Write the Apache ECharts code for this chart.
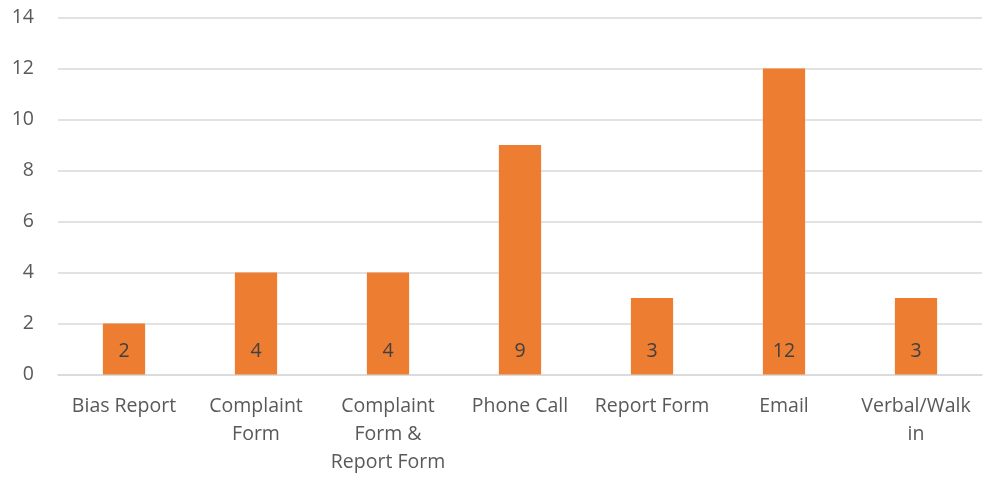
<!DOCTYPE html>
<html>
<head>
<meta charset="utf-8">
<script src="https://cdn.jsdelivr.net/npm/echarts@6/dist/echarts.min.js"></script>
<style>
  html, body { margin: 0; padding: 0; background: #fff; }
  #chart { width: 988px; height: 479px; }
</style>
</head>
<body>
<div id="chart"></div>
<script>
// 数据
var categories = ['Bias Report', 'Complaint\nForm', 'Complaint\nForm &\nReport Form', 'Phone Call', 'Report Form', 'Email', 'Verbal/Walk\nin'];
var counts = [2, 4, 4, 9, 3, 12, 3];
var yTicks = { min: 0, max: 14, interval: 2 };

var chart = echarts.init(document.getElementById('chart'));

var option = {
    animation: false,
    textStyle: { fontFamily: 'Open Sans' },
    grid: { left: 58, right: 6, top: 17.5, bottom: 104.5 },
    xAxis: {
        type: 'category',
        data: categories,
        axisLine: { lineStyle: { color: '#d9d9d9', width: 1.5 } },
        axisTick: { show: false },
        axisLabel: {
            color: '#595959',
            fontSize: 19.5,
            lineHeight: 28,
            margin: 18,
            interval: 0
        }
    },
    yAxis: {
        type: 'value',
        min: yTicks.min,
        max: yTicks.max,
        interval: yTicks.interval,
        axisLine: { show: false },
        axisTick: { show: false },
        splitLine: { lineStyle: { color: '#d9d9d9', width: 1.5 } },
        axisLabel: { color: '#595959', fontSize: 19.5, margin: 24 }
    },
    series: [{
        type: 'bar',
        data: counts,
        barWidth: '32%',
        itemStyle: { color: '#ed7d31' },
        label: {
            show: true,
            position: 'insideBottom',
            distance: 13,
            color: '#404040',
            fontSize: 19.5
        }
    }]
};

chart.setOption(option);
</script>
</body>
</html>
